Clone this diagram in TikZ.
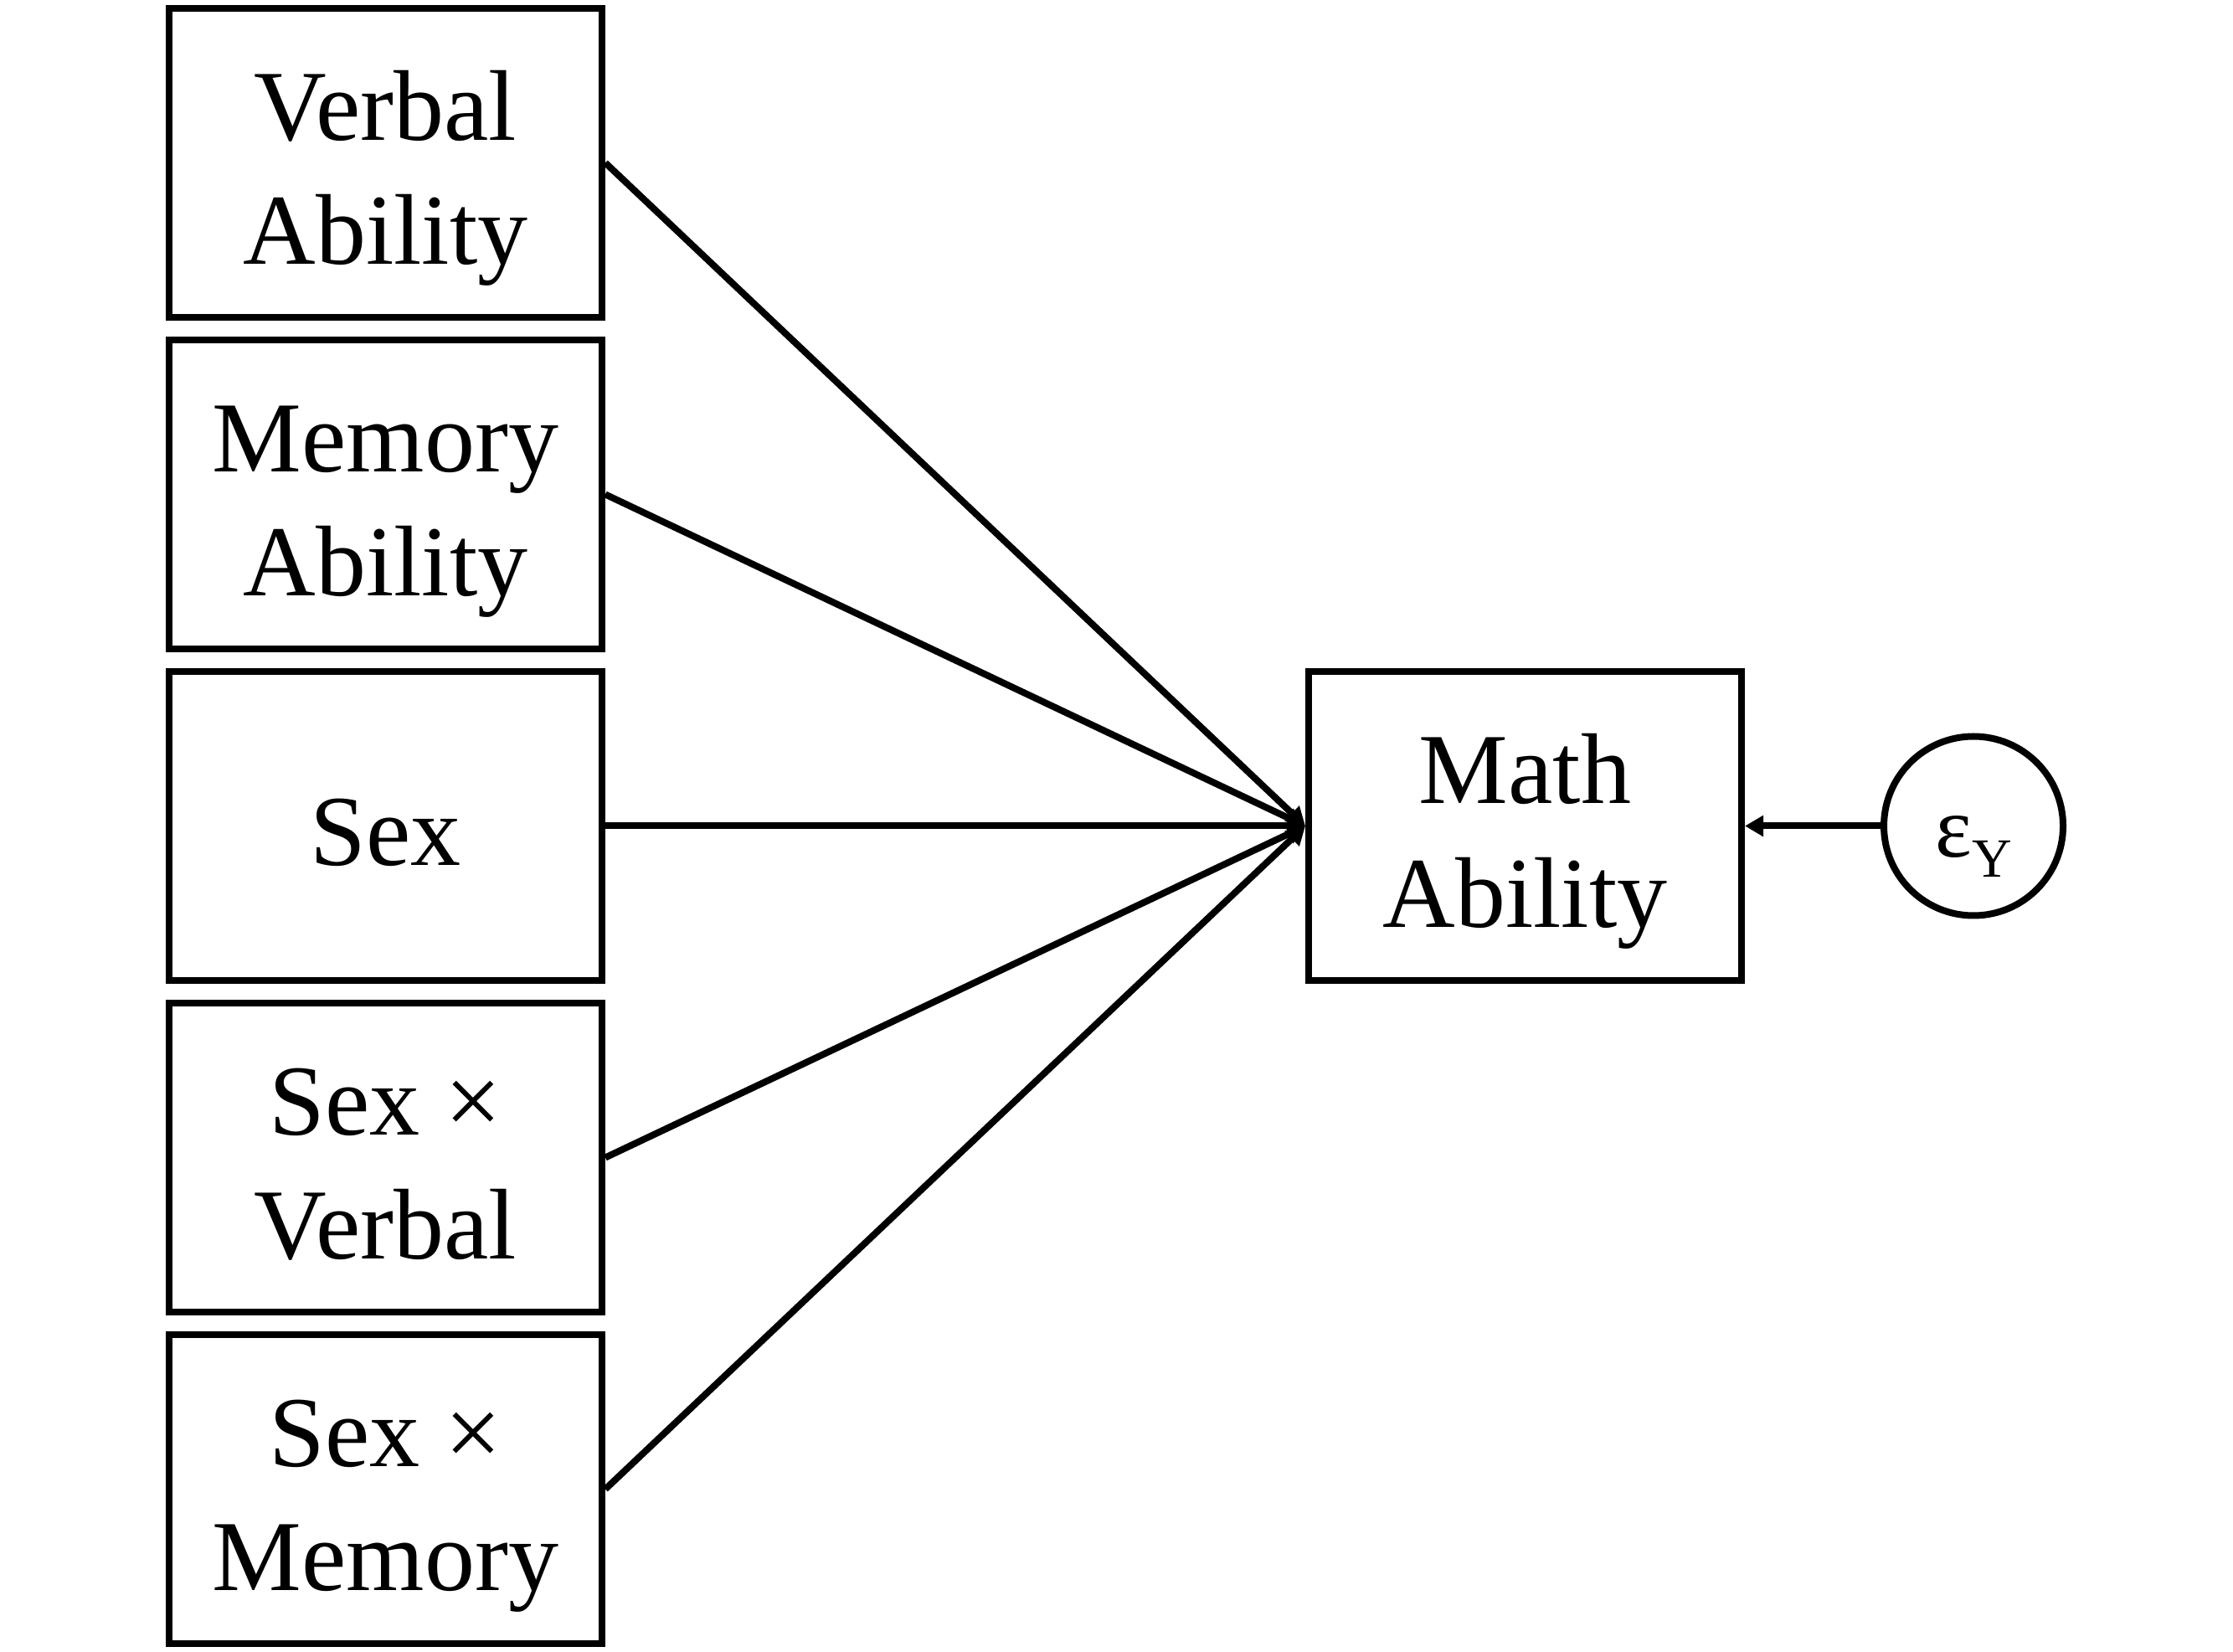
\documentclass[tikz,border=0pt]{standalone}
\usepackage{fontspec}
\setmainfont{Liberation Serif}
\usepackage{tikz}
\usetikzlibrary{positioning, arrows.meta}

\tikzset{
  varbox/.style={draw, rectangle, minimum width=51.7pt, minimum height=36.9pt,
        inner sep=0pt, font=\fontsize{12}{14.8}\selectfont, text depth=0pt},
  twolines/.style={varbox, text height=24.2pt},
  oneline/.style={varbox, text height=9.4pt},
  errnode/.style={draw, circle, minimum size=21.4pt, inner sep=0pt,
        font=\fontsize{10.4}{12}\selectfont, text height=7.4pt, text depth=0pt},
  effect/.style={-{Triangle[length=2.2pt, width=2.4pt]}}
}
\newcommand{\twolab}[2]{\begin{tabular}[b]{@{}c@{}}#1\\#2\end{tabular}}

\begin{document}
\begin{tikzpicture}[line width=0.8pt]
  \useasboundingbox (0,0) rectangle (266.7pt,-197.3pt);
  \node[twolines] (verbal) at (46.05pt,-19.45pt) {\twolab{Verbal}{Ability}};
  \node[twolines, below=1.9pt of verbal] (memory) {\twolab{Memory}{Ability}};
  \node[oneline, below=1.9pt of memory] (sex) {Sex};
  \node[twolines, below=1.9pt of sex] (sexverbal) {\twolab{Sex ×}{Verbal}};
  \node[twolines, below=1.9pt of sexverbal] (sexmemory) {\twolab{Sex ×}{Memory}};
  \node[twolines, right=83.6pt of sex] (math) {\twolab{Math}{Ability}};
  \node[errnode, right=16.2pt of math] (err)
    {ε\raisebox{-2.4pt}{\fontsize{6.6}{8}\selectfont Y}};
  \foreach \src in {verbal, memory, sex, sexverbal, sexmemory}
    \draw[effect] (\src.east) -- (math.west);
  \draw[effect] (err.west) -- (math.east);
\end{tikzpicture}
\end{document}
